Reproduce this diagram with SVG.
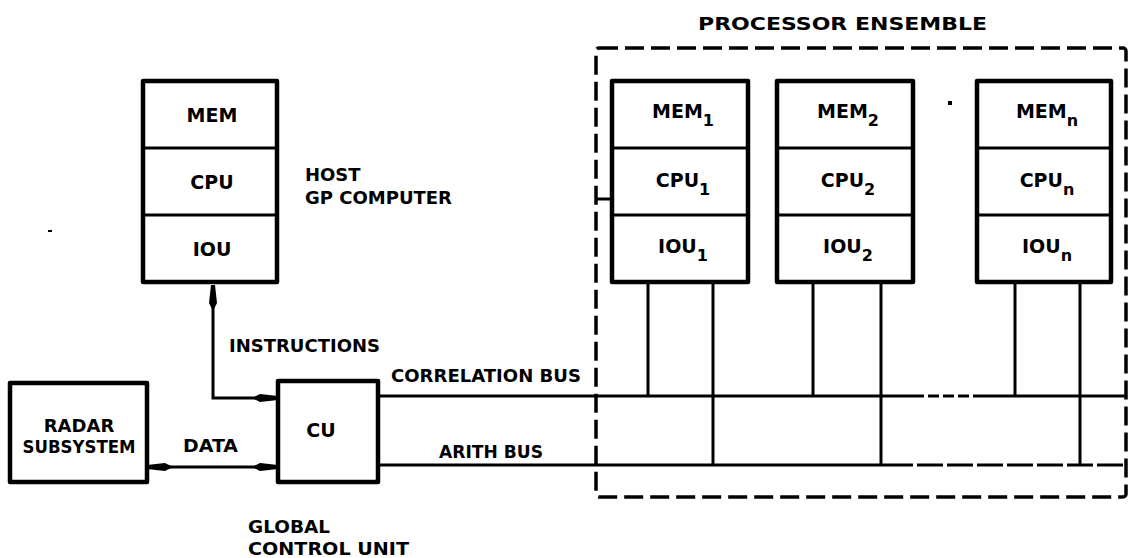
<svg xmlns="http://www.w3.org/2000/svg" width="1128" height="558" viewBox="0 0 1128 558">
<style>
text{font-family:"DejaVu Sans","Liberation Sans",sans-serif;font-weight:bold;font-size:18px;fill:#000}
.box{fill:#fff;stroke:#000;stroke-width:4.5;stroke-linejoin:round}
.div{stroke:#000;stroke-width:3;fill:none}
.ln{stroke:#000;stroke-width:3;fill:none}
.dash{stroke:#000;stroke-width:3.5;fill:none;stroke-dasharray:19 7}
.m{text-anchor:middle}
.cell{font-size:19px}
.sub{font-size:16px}
</style>
<defs>
<marker id="ah" viewBox="0 0 26 10" markerUnits="userSpaceOnUse" markerWidth="26" markerHeight="10" refX="26" refY="5" orient="auto-start-reverse">
<path d="M0,5 L8,1 L26,3 L26,7 L8,9 Z" fill="#000"/>
</marker>
</defs>

<g id="ensemble-boundary">
<rect x="596" y="48" width="530" height="449" rx="3" class="dash"/>
<line x1="596" y1="199" x2="612" y2="199" class="ln"/>
<text x="698" y="30" font-size="20" textLength="289" lengthAdjust="spacingAndGlyphs">PROCESSOR  ENSEMBLE</text>
</g>

<g id="connectors">
<polyline points="213,285 213,398 278,398" class="ln" marker-start="url(#ah)" marker-end="url(#ah)"/>
<line x1="147" y1="467" x2="278" y2="467" class="ln" marker-start="url(#ah)" marker-end="url(#ah)"/>
<line x1="378" y1="396" x2="913" y2="396" class="ln"/>
<line x1="913" y1="396" x2="973" y2="396" class="ln" stroke-dasharray="11 4"/>
<line x1="973" y1="396" x2="1126" y2="396" class="ln"/>
<line x1="378" y1="465" x2="913" y2="465" class="ln"/>
<line x1="917" y1="465" x2="1126" y2="465" class="ln" stroke-dasharray="26 4"/>
<line x1="648" y1="282" x2="648" y2="396" class="ln"/>
<line x1="713" y1="282" x2="713" y2="465" class="ln"/>
<line x1="813" y1="282" x2="813" y2="396" class="ln"/>
<line x1="881" y1="282" x2="881" y2="465" class="ln"/>
<line x1="1015" y1="282" x2="1015" y2="396" class="ln"/>
<line x1="1080" y1="282" x2="1080" y2="465" class="ln"/>
<text x="229" y="352" textLength="151" lengthAdjust="spacingAndGlyphs">INSTRUCTIONS</text>
<text x="183" y="452" textLength="55" lengthAdjust="spacingAndGlyphs">DATA</text>
<text x="391" y="382" textLength="190" lengthAdjust="spacingAndGlyphs">CORRELATION BUS</text>
<text x="439" y="458" textLength="104" lengthAdjust="spacingAndGlyphs">ARITH BUS</text>
</g>

<g id="host">
<rect x="143" y="81" width="134" height="201" class="box"/>
<line x1="143" y1="148" x2="277" y2="148" class="div"/>
<line x1="143" y1="215" x2="277" y2="215" class="div"/>
<text x="212" y="122" class="m cell">MEM</text>
<text x="212" y="189" class="m cell">CPU</text>
<text x="212" y="256" class="m cell">IOU</text>
<text x="305" y="181">HOST</text>
<text x="305" y="204" textLength="147" lengthAdjust="spacingAndGlyphs">GP COMPUTER</text>
</g>

<g id="processor-1">
<rect x="612" y="81" width="136" height="201" class="box"/>
<line x1="612" y1="148" x2="748" y2="148" class="div"/>
<line x1="612" y1="215" x2="748" y2="215" class="div"/>
<text x="683" y="118" class="m cell">MEM<tspan class="sub" dy="8">1</tspan></text>
<text x="683" y="187" class="m cell">CPU<tspan class="sub" dy="8">1</tspan></text>
<text x="683" y="253" class="m cell">IOU<tspan class="sub" dy="8">1</tspan></text>
</g>

<g id="processor-2">
<rect x="777" y="81" width="136" height="201" class="box"/>
<line x1="777" y1="148" x2="913" y2="148" class="div"/>
<line x1="777" y1="215" x2="913" y2="215" class="div"/>
<text x="848" y="118" class="m cell">MEM<tspan class="sub" dy="8">2</tspan></text>
<text x="848" y="187" class="m cell">CPU<tspan class="sub" dy="8">2</tspan></text>
<text x="848" y="253" class="m cell">IOU<tspan class="sub" dy="8">2</tspan></text>
</g>

<g id="processor-n">
<rect x="977" y="81" width="134" height="201" class="box"/>
<line x1="977" y1="148" x2="1111" y2="148" class="div"/>
<line x1="977" y1="215" x2="1111" y2="215" class="div"/>
<text x="1047" y="118" class="m cell">MEM<tspan class="sub" dy="8">n</tspan></text>
<text x="1047" y="187" class="m cell">CPU<tspan class="sub" dy="8">n</tspan></text>
<text x="1047" y="253" class="m cell">IOU<tspan class="sub" dy="8">n</tspan></text>
</g>
<rect x="948" y="101" width="4" height="4" fill="#000"/>

<g id="cu">
<rect x="278" y="381" width="100" height="101" class="box"/>
<text x="321" y="437" class="m cell">CU</text>
<text x="248" y="533" textLength="82" lengthAdjust="spacingAndGlyphs">GLOBAL</text>
<text x="248" y="555" textLength="161" lengthAdjust="spacingAndGlyphs">CONTROL UNIT</text>
</g>

<g id="radar">
<rect x="10" y="383" width="137" height="99" class="box"/>
<text x="79" y="432" class="m">RADAR</text>
<text x="79" y="453" class="m" textLength="113" lengthAdjust="spacingAndGlyphs">SUBSYSTEM</text>
</g>
<rect x="48" y="230" width="4" height="2" fill="#000"/>
</svg>
